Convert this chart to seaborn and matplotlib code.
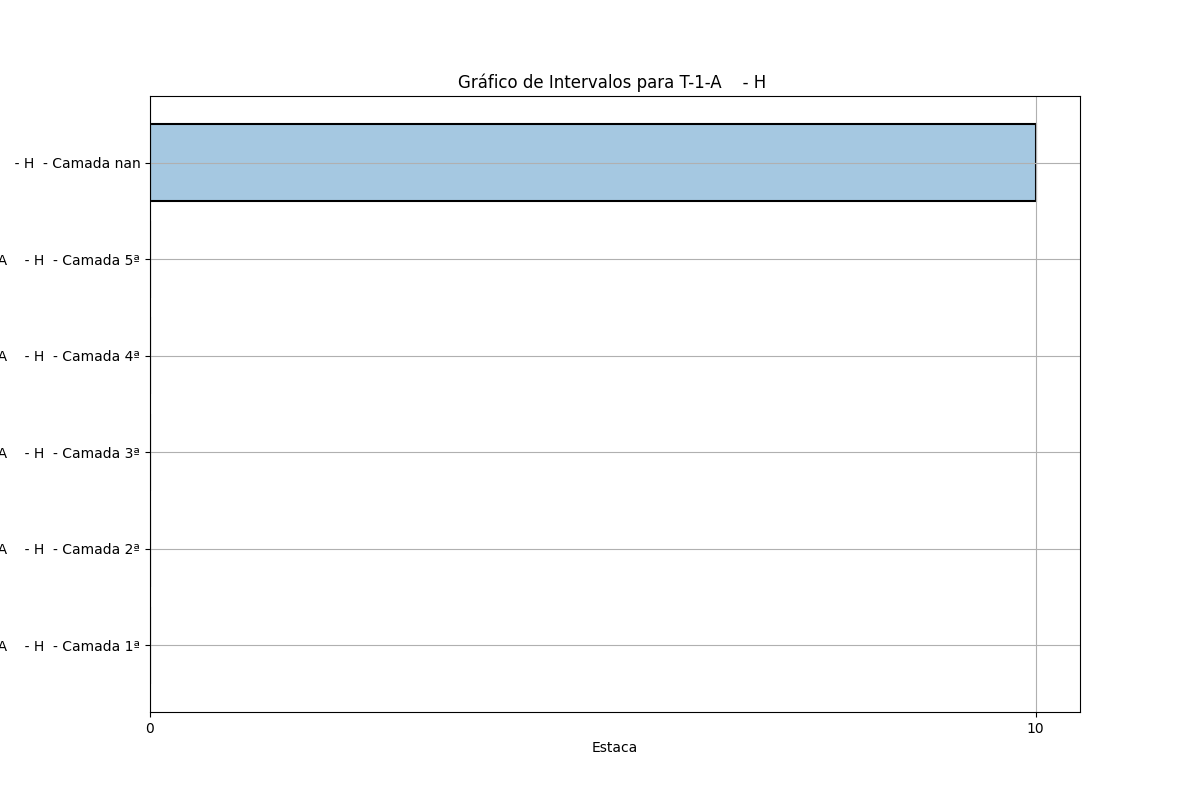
import matplotlib
matplotlib.use("Agg")
import matplotlib.pyplot as plt
from matplotlib.colors import to_rgba
import seaborn as sns
import pandas as pd

# Intervals per layer (Estaca start/end), top to bottom as shown
prefix = "T-1-A    - H"
camadas = ["nan", "5ª", "4ª", "3ª", "2ª", "1ª"]
inicio = [0, 0, 0, 0, 0, 0]
fim = [10, 0, 0, 0, 0, 0]

df = pd.DataFrame({
    "label": [f"{prefix}  - Camada {c}" for c in camadas],
    "inicio": inicio,
    "fim": fim,
})
df["largura"] = df["fim"] - df["inicio"]

fig, ax = plt.subplots(figsize=(12, 8), dpi=100)

sns.barplot(data=df, x="largura", y="label", order=df["label"], orient="h",
            color="#1f77b4", saturation=1,
            edgecolor="black", linewidth=1.5, width=0.8, ax=ax)

# transparent fill, solid black edge
for p in ax.patches:
    p.set_facecolor(to_rgba("#1f77b4", 0.4))
    p.set_edgecolor("black")

# same limits matplotlib would give a plain barh (5% margin)
n = len(df)
pad = 0.05 * (n - 1 + 0.8)
ax.set_ylim(n - 1 + 0.4 + pad, -0.4 - pad)
ax.set_xlim(0, 10.5)
ax.set_xticks(sorted(set(inicio + fim)))
ax.grid(True)
ax.set_axisbelow("line")
ax.set_title(f"Gráfico de Intervalos para {prefix} ")
ax.set_xlabel("Estaca")
ax.set_ylabel("")

plt.savefig("out.png", dpi=100)
